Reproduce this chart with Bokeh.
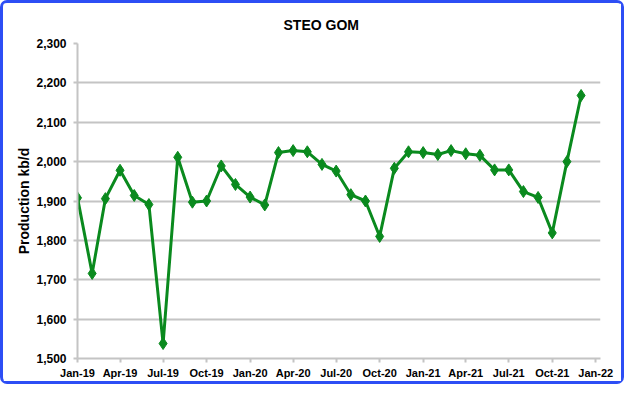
from datetime import datetime
import pandas as pd
from bokeh.plotting import figure
from bokeh.models import FixedTicker, DatetimeTickFormatter, NumeralTickFormatter, Range1d
from bokeh.embed import file_html
from bokeh.resources import INLINE

# ---- data ----
months = ["2019-01", "2019-02", "2019-03", "2019-04", "2019-05", "2019-06",
          "2019-07", "2019-08", "2019-09", "2019-10", "2019-11", "2019-12",
          "2020-01", "2020-02", "2020-03", "2020-04", "2020-05", "2020-06",
          "2020-07", "2020-08", "2020-09", "2020-10", "2020-11", "2020-12",
          "2021-01", "2021-02", "2021-03", "2021-04", "2021-05", "2021-06",
          "2021-07", "2021-08", "2021-09", "2021-10", "2021-11", "2021-12"]
production = [1908, 1716, 1906, 1978, 1914, 1891, 1538, 2011, 1897, 1900, 1989, 1942,
              1910, 1890, 2023, 2028, 2025, 1993, 1976, 1916, 1900, 1810, 1983, 2025,
              2023, 2018, 2028, 2020, 2016, 1979, 1979, 1924, 1909, 1819, 2000, 2168]
x_ticks = ["2019-01", "2019-04", "2019-07", "2019-10", "2020-01", "2020-04", "2020-07",
           "2020-10", "2021-01", "2021-04", "2021-07", "2021-10", "2022-01"]
y_ticks = [1500, 1600, 1700, 1800, 1900, 2000, 2100, 2200, 2300]

dates = pd.to_datetime(months)
tick_ms = [pd.Timestamp(t).value // 10**6 for t in x_ticks]

FONT = "Liberation Sans"
GREEN = "#0a8a1e"
GREY = "#c4c4c4"

p = figure(x_axis_type="datetime",
           frame_width=523, frame_height=315,
           min_border_left=74, min_border_right=21, min_border_top=40, min_border_bottom=22,
           x_range=Range1d(datetime(2019, 1, 1), datetime(2022, 1, 11)),
           y_range=Range1d(1500, 2300),
           output_backend="svg", toolbar_location=None,
           background_fill_color="white", border_fill_color="white")
p.outline_line_color = None
p.styles = {"border": "3px solid #2d4ef5", "border-radius": "7px"}

p.title.text = "STEO GOM"
p.title.align = "left"
p.title.offset = 206
p.title.standoff = 22
p.title.text_font = FONT
p.title.text_font_size = "14px"
p.title.text_font_style = "bold"
p.title.text_color = "black"

p.xgrid.visible = False
p.ygrid.grid_line_color = GREY
p.ygrid.grid_line_width = 2

p.xaxis.ticker = FixedTicker(ticks=tick_ms)
fmt = "%b-%y"
p.xaxis.formatter = DatetimeTickFormatter(days=fmt, months=fmt, years=fmt, hours=fmt,
                                          minutes=fmt, seconds=fmt, milliseconds=fmt,
                                          microseconds=fmt, hourmin=fmt, minsec=fmt)
p.yaxis.ticker = FixedTicker(ticks=y_ticks)
p.yaxis.formatter = NumeralTickFormatter(format="0,0")
p.yaxis.axis_label = "Production kb/d"

for ax in (p.xaxis[0], p.yaxis[0]):
    ax.axis_line_color = GREY
    ax.axis_line_width = 2
    ax.major_tick_line_color = GREY
    ax.major_tick_line_width = 2
    ax.major_tick_out = 4
    ax.major_tick_in = 0
    ax.minor_tick_line_color = None
    ax.major_label_text_font = FONT
    ax.major_label_text_font_style = "bold"
    ax.major_label_text_color = "black"

p.xaxis.major_label_text_font_size = "11px"
p.xaxis.major_label_standoff = 4
p.yaxis.major_label_text_font_size = "12px"
p.yaxis.major_label_standoff = 7
p.yaxis.axis_label_text_font = FONT
p.yaxis.axis_label_text_font_size = "14px"
p.yaxis.axis_label_text_font_style = "bold"
p.yaxis.axis_label_text_color = "black"
p.yaxis.axis_label_standoff = 1

p.line(dates, production, line_color=GREEN, line_width=3)
p.scatter(dates, production, marker="diamond", size=12, fill_color=GREEN, line_color=GREEN)

open("out.html", "w").write(file_html(p, INLINE))
